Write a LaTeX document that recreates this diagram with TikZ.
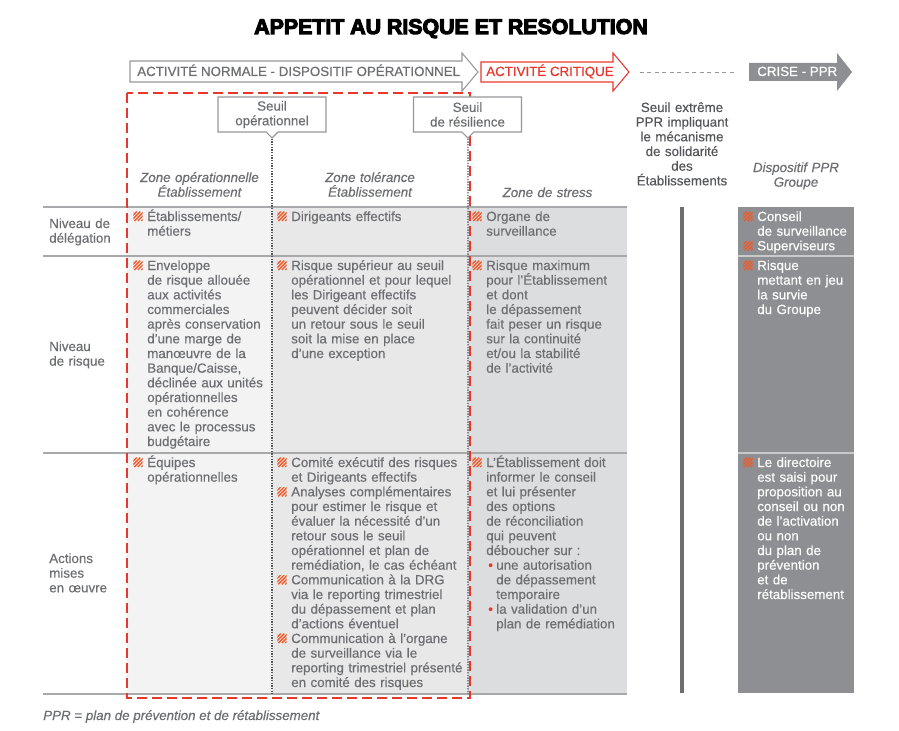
\documentclass[tikz,border=0pt]{standalone}
\usepackage{fontspec}
\setmainfont{Liberation Sans}[FakeBold=0.4]
\newfontfamily\titlefont{Liberation Sans Bold}[FakeBold=5]
\usepackage{xcolor}
\usepackage{tikz}
\usetikzlibrary{shapes.callouts, positioning}
\definecolor{mytext}{RGB}{109,110,113}
\definecolor{mydark}{RGB}{85,86,90}
\definecolor{myred}{RGB}{232,55,44}
\definecolor{hatchred}{RGB}{240,90,40}
\definecolor{mgframe}{RGB}{150,151,154}
\definecolor{myline}{RGB}{168,169,171}
\definecolor{colone}{RGB}{243,243,243}
\definecolor{coltwo}{RGB}{232,232,233}
\definecolor{colthree}{RGB}{220,221,223}
\definecolor{pprgray}{RGB}{142,143,147}
\definecolor{pprsep}{RGB}{200,201,203}
\definecolor{bargray}{RGB}{109,110,113}
% hatched square in front of each item
\newcommand{\hatchmark}{\tikz[baseline=0pt, x=1pt, y=1pt]{%
  \path[use as bounding box] (0,0) rectangle (7,7);
  \clip (0,0) rectangle (7,7);
  \foreach \k in {-7,-4.4,...,7} \draw[hatchred, line width=1pt] (\k,0) -- ++(7,7);}}
% one item: mark, then lines hanging under the first one
\newcommand{\hitem}[1]{{\let\\\newline\hangindent=10.5pt\hangafter=1\noindent\makebox[10.5pt][l]{\hatchmark}#1\par}}
\newcommand{\bul}{\makebox[7.5pt][l]{\hspace*{1.5pt}\textcolor{myred}{\textbullet}}}
\newcommand{\bulind}{\hspace*{7.5pt}}
\tikzset{
  titletext/.style={anchor=base, inner sep=0pt, font=\titlefont\fontsize{16}{18}\selectfont},
  arrowtext/.style={anchor=base west, inner sep=0pt, font=\fontsize{10}{12}\selectfont},
  outarrow/.style={draw=mgframe, fill=white, line width=0.8pt},
  redoutarrow/.style={draw=myred, fill=white, line width=0.8pt},
  gapline/.style={mgframe, line width=0.6pt, dash pattern=on 3pt off 2.6pt},
  tabline/.style={myline, line width=1.1pt},
  pprline/.style={pprsep, line width=1.1pt},
  reddash/.style={myred, line width=1.5pt, dash pattern=on 7.5pt off 3.75pt},
  seuilline/.style={mydark, line width=1pt, dash pattern=on 1pt off 1pt},
  callbox/.style={rectangle callout, draw=mgframe, fill=white, line width=0.8pt,
    minimum width=81pt, minimum height=26.25pt, inner sep=0pt, align=center,
    callout pointer width=9pt, text=mytext, font=\fontsize{10}{11}\selectfont},
  celltext/.style={anchor=base west, inner sep=0pt, align=left, text=mytext,
    font={\fontsize{10}{11}\selectfont\lineskiplimit=-20pt}},
  opcell/.style={celltext, text width=118pt},
  tolcell/.style={celltext, text width=150pt},
  stresscell/.style={celltext, text width=125pt},
  pprcell/.style={celltext, text=white, text width=95pt},
  rowlabel/.style={celltext, text width=75pt},
  zonehead/.style={anchor=base, inner sep=0pt, align=center, text width=140pt, text=mytext,
    font={\itshape\fontsize{10}{11}\selectfont\lineskiplimit=-20pt}},
  seuiltext/.style={anchor=base, inner sep=0pt, align=center, text width=100pt, text=mydark,
    font={\fontsize{10}{11}\selectfont\lineskiplimit=-20pt}},
  footnote/.style={anchor=base west, inner sep=0pt, text=mytext, font=\itshape\fontsize{10}{12}\selectfont}
}
\begin{document}
\begin{tikzpicture}[x=0.75pt, y=-0.75pt]
  \useasboundingbox (0,0) rectangle (899,731);
  % ── Title ──────────────────────────────────────────────────────────────
  \node[titletext] (title) at (451,34) {APPETIT AU RISQUE ET RESOLUTION};

  % ── Phase arrows ───────────────────────────────────────────────────────
  \draw[outarrow] (130,61) -- (462,61) -- (462,53) -- (478,72) -- (462,91) -- (462,82) -- (130,82) -- cycle;
  \node[arrowtext, text=mytext] (normal) at (137,76) {ACTIVITÉ NORMALE - DISPOSITIF OPÉRATIONNEL};
  \draw[redoutarrow] (481,62) -- (613,62) -- (613,53) -- (629,72) -- (613,91) -- (613,82) -- (481,82) -- cycle;
  \node[arrowtext, text=myred] (critique) at (486,76) {ACTIVITÉ CRITIQUE};
  \coordinate (dashl) at (640,72);
  \coordinate (dashr) at (737,72);
  \draw[gapline] (dashl) -- (dashr);
  \fill[pprgray] (749,63) -- (837,63) -- (837,53) -- (852,72) -- (837,91) -- (837,81) -- (749,81) -- cycle;
  \node[arrowtext, text=white] (crise) at (757,76) {CRISE - PPR};

  % ── Table background ───────────────────────────────────────────────────
  \fill[colone] (127,207) rectangle (272,694);
  \fill[coltwo] (272,207) rectangle (468,694);
  \fill[colthree] (468,207) rectangle (627,694);
  \foreach \y in {207,256,453,694} \draw[tabline] (43,\y) -- (627,\y);
  % PPR group column
  \fill[pprgray] (738,207) rectangle (854,693);
  \foreach \y in {256,453} \draw[pprline] (738,\y) -- (854,\y);
  \draw[bargray, line width=3pt] (682,207) -- (682,693);

  % ── Thresholds ─────────────────────────────────────────────────────────
  \draw[reddash] (127,93) rectangle (470,698);
  \node[callbox, callout absolute pointer={(272,138)}] (seuilop) at (272,114.5) {Seuil\\opérationnel};
  \node[callbox, callout absolute pointer={(468,138)}] (seuilres) at (467.5,114.5) {Seuil\\de résilience};
  \coordinate (opbot) at (272,694);
  \coordinate (resbot) at (468,694);
  \draw[seuilline] (seuilop.pointer) -- (opbot);
  \draw[seuilline] (seuilres.pointer) -- (resbot);

  % ── Column heads ───────────────────────────────────────────────────────
  \node[zonehead] (hop) at (199.5,182) {Zone opérationnelle\\Établissement};
  \node[zonehead] (htol) at (370,182) {Zone tolérance\\Établissement};
  \node[zonehead] (hstress) at (547.5,197) {Zone de stress};
  \node[seuiltext] (hext) at (682,112) {Seuil extrême\\PPR impliquant\\le mécanisme\\de solidarité\\des\\Établissements};
  \node[zonehead] (hppr) at (796,172) {Dispositif PPR\\Groupe};

  % ── Row labels ─────────────────────────────────────────────────────────
  \node[rowlabel] (lbldel) at (49,228) {Niveau de\\délégation};
  \node[rowlabel] (lblrisk) at (49,351) {Niveau\\de risque};
  \node[rowlabel] (lblact) at (49,563) {Actions\\mises\\en œuvre};

  % ── Niveau de délégation ───────────────────────────────────────────────
  \node[opcell] (opdel) at (133,221) {\hitem{Établissements/\\métiers}};
  \node[tolcell] (toldel) at (277,221) {\hitem{Dirigeants effectifs}};
  \node[stresscell] (stdel) at (472,221) {\hitem{Organe de\\surveillance}};
  \node[pprcell] (pprdel) at (743,221) {\hitem{Conseil\\de surveillance}\hitem{Superviseurs}};

  % ── Niveau de risque ───────────────────────────────────────────────────
  \node[opcell] (oprisk) at (133,270) {\hitem{Enveloppe\\de risque allouée\\aux activités\\commerciales\\après conservation\\d’une marge de\\manœuvre de la\\Banque/Caisse,\\déclinée aux unités\\opérationnelles\\en cohérence\\avec le processus\\budgétaire}};
  \node[tolcell] (tolrisk) at (277,270) {\hitem{Risque supérieur au seuil\\opérationnel et pour lequel\\les Dirigeant effectifs\\peuvent décider soit\\un retour sous le seuil\\soit la mise en place\\d’une exception}};
  \node[stresscell] (strisk) at (472,270) {\hitem{Risque maximum\\pour l’Établissement\\et dont\\le dépassement\\fait peser un risque\\sur la continuité\\et/ou la stabilité\\de l’activité}};
  \node[pprcell] (pprrisk) at (743,270) {\hitem{Risque\\mettant en jeu\\la survie\\du Groupe}};

  % ── Actions mises en oeuvre ────────────────────────────────────────────
  \node[opcell] (opact) at (133,467) {\hitem{Équipes\\opérationnelles}};
  \node[tolcell] (tolact) at (277,467) {\hitem{Comité exécutif des risques\\et Dirigeants effectifs}\hitem{Analyses complémentaires\\pour estimer le risque et\\évaluer la nécessité d’un\\retour sous le seuil\\opérationnel et plan de\\remédiation, le cas échéant}\hitem{Communication à la DRG\\via le reporting trimestriel\\du dépassement et plan\\d’actions éventuel}\hitem{Communication à l’organe\\de surveillance via le\\reporting trimestriel présenté\\en comité des risques}};
  \node[stresscell] (stact) at (472,467) {\hitem{L’Établissement doit\\informer le conseil\\et lui présenter\\des options\\de réconciliation\\qui peuvent\\déboucher sur~:\\\bul une autorisation\\\bulind de dépassement\\\bulind temporaire\\\bul la validation d’un\\\bulind plan de remédiation}};
  \node[pprcell] (ppract) at (743,467) {\hitem{Le directoire\\est saisi pour\\proposition au\\conseil ou non\\de l’activation\\ou non\\du plan de\\prévention\\et de\\rétablissement}};

  % ── Footnote ───────────────────────────────────────────────────────────
  \node[footnote] (note) at (43,720) {PPR = plan de prévention et de rétablissement};
\end{tikzpicture}
\end{document}
